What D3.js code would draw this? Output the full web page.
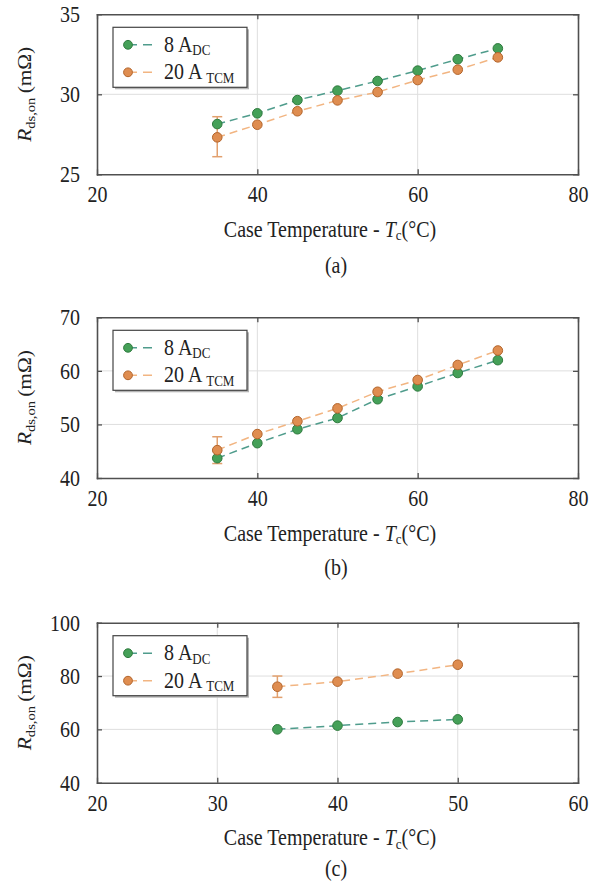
<!DOCTYPE html>
<html>
<head>
<meta charset="utf-8">
<script src="https://cdn.jsdelivr.net/npm/d3@7"></script>
<style>
  body { margin: 0; background: #fff; }
  text { font-family: "Liberation Serif", "Times New Roman", serif; fill: #222; }
</style>
</head>
<body>
<svg id="fig" width="614" height="885"></svg>
<script>
// Case temperatures (°C)
const tempsAB = [35, 40, 45, 50, 55, 60, 65, 70];
const tempsC = [35, 40, 45, 50];

// R_ds,on (mΩ), panel (a)
const dcA  = [28.14, 28.81, 29.64, 30.23, 30.83, 31.48, 32.19, 32.87];
const tcmA = [27.31, 28.10, 28.94, 29.62, 30.14, 30.89, 31.54, 32.31];
const tcmErrA = [[35, 26.1, 28.6]];

// R_ds,on (mΩ), panel (b)
const dcB  = [43.7, 46.5, 49.1, 51.2, 54.7, 57.1, 59.6, 62.0];
const tcmB = [45.2, 48.2, 50.6, 53.0, 56.1, 58.3, 61.1, 63.8];
const tcmErrB = [[35, 42.7, 47.7]];

// R_ds,on (mΩ), panel (c)
const dcC  = [60.0, 61.4, 62.75, 63.75];
const tcmC = [76.0, 77.9, 80.9, 84.25];
const tcmErrC = [[35, 72.0, 80.0]];

// Axis ticks
const xTicksAB = [20, 40, 60, 80];
const xTicksC = [20, 30, 40, 50, 60];
const yTicksA = [25, 30, 35];
const yTicksB = [40, 50, 60, 70];
const yTicksC = [40, 60, 80, 100];

const captions = ["(a)", "(b)", "(c)"];

const COLORS = {
  dcFill: "#45a058", dcStroke: "#2e7a3e", dcLine: "#4f9c8c",
  tcmFill: "#df8d50", tcmStroke: "#b3652c", tcmLine: "#f2b582", tcmErr: "#e2a06e"
};

// glyphs of this typeface are drawn slightly tall
const SY = 1.12;

const svg = d3.select("#fig");
const L = 97, R = 578;

const panels = [
  { top: 14.3, bottom: 174.3, caption: 273, temps: tempsAB, dc: dcA, tcm: tcmA, err: tcmErrA,
    xTicks: xTicksAB, yTicks: yTicksA, label: captions[0] },
  { top: 317.3, bottom: 478, caption: 575, temps: tempsAB, dc: dcB, tcm: tcmB, err: tcmErrB,
    xTicks: xTicksAB, yTicks: yTicksB, label: captions[1] },
  { top: 622.7, bottom: 782.7, caption: 876, temps: tempsC, dc: dcC, tcm: tcmC, err: tcmErrC,
    xTicks: xTicksC, yTicks: yTicksC, label: captions[2] }
];

// horizontal text anchored at (x, y) with a vertical stretch
function place(sel, x, y) {
  return sel.attr("x", 0).attr("y", 0).attr("transform", `translate(${x},${y}) scale(1,${SY})`);
}

function drawPanel(p) {
  const g = svg.append("g");
  const x = d3.scaleLinear().domain(d3.extent(p.xTicks)).range([L, R]);
  const y = d3.scaleLinear().domain(d3.extent(p.yTicks)).range([p.bottom, p.top]);

  // grid
  g.append("g").selectAll("line").data(p.xTicks.slice(1, -1)).join("line")
    .attr("x1", d => x(d)).attr("x2", d => x(d))
    .attr("y1", p.top).attr("y2", p.bottom)
    .attr("stroke", "#dedede").attr("stroke-width", 1);
  g.append("g").selectAll("line").data(p.yTicks.slice(1, -1)).join("line")
    .attr("y1", d => y(d)).attr("y2", d => y(d))
    .attr("x1", L).attr("x2", R)
    .attr("stroke", "#dedede").attr("stroke-width", 1);

  // frame axes with inward ticks
  const styleAxis = sel => {
    sel.select(".domain").attr("stroke", "#505050").attr("stroke-width", 1.6);
    sel.selectAll(".tick line").attr("stroke", "#505050").attr("stroke-width", 1.3);
  };
  const bottomAx = g.append("g").attr("transform", `translate(0,${p.bottom})`)
    .call(d3.axisBottom(x).tickValues(p.xTicks).tickSizeInner(-5).tickSizeOuter(0).tickFormat(d3.format("d")))
    .call(styleAxis);
  bottomAx.selectAll("text").attr("dy", null).attr("font-size", 20).attr("fill", "#222")
    .attr("font-family", '"Liberation Serif", "Times New Roman", serif')
    .each(function () { place(d3.select(this), 0, 28); });
  g.append("g").attr("transform", `translate(0,${p.top})`)
    .call(d3.axisTop(x).tickValues(p.xTicks).tickSizeInner(-5).tickSizeOuter(0).tickFormat(""))
    .call(styleAxis);
  const leftAx = g.append("g").attr("transform", `translate(${L},0)`)
    .call(d3.axisLeft(y).tickValues(p.yTicks).tickSizeInner(-5).tickSizeOuter(0).tickFormat(d3.format("d")))
    .call(styleAxis);
  leftAx.selectAll("text").attr("dy", null).attr("font-size", 20).attr("fill", "#222")
    .attr("font-family", '"Liberation Serif", "Times New Roman", serif')
    .each(function () { place(d3.select(this), -17, 7.5); });
  g.append("g").attr("transform", `translate(${R},0)`)
    .call(d3.axisRight(y).tickValues(p.yTicks).tickSizeInner(-5).tickSizeOuter(0).tickFormat(""))
    .call(styleAxis);
  g.selectAll(".domain").attr("stroke-linecap", "square");

  // series lines
  const line = d3.line().x(d => x(d[0])).y(d => y(d[1]));
  const dcPts = p.temps.map((t, i) => [t, p.dc[i]]);
  const tcmPts = p.temps.map((t, i) => [t, p.tcm[i]]);
  g.append("path").attr("d", line(dcPts)).attr("fill", "none")
    .attr("stroke", COLORS.dcLine).attr("stroke-width", 1.5).attr("stroke-dasharray", "8,5");
  g.append("path").attr("d", line(tcmPts)).attr("fill", "none")
    .attr("stroke", COLORS.tcmLine).attr("stroke-width", 1.5).attr("stroke-dasharray", "8,5");

  // error bars
  const eb = g.append("g").attr("stroke", COLORS.tcmErr).attr("stroke-width", 1.5);
  p.err.forEach(([t, lo, hi]) => {
    eb.append("line").attr("x1", x(t)).attr("x2", x(t)).attr("y1", y(lo)).attr("y2", y(hi));
    eb.append("line").attr("x1", x(t) - 5).attr("x2", x(t) + 5).attr("y1", y(lo)).attr("y2", y(lo));
    eb.append("line").attr("x1", x(t) - 5).attr("x2", x(t) + 5).attr("y1", y(hi)).attr("y2", y(hi));
  });

  // markers
  g.append("g").selectAll("circle").data(dcPts).join("circle")
    .attr("cx", d => x(d[0])).attr("cy", d => y(d[1])).attr("r", 4.8)
    .attr("fill", COLORS.dcFill).attr("stroke", COLORS.dcStroke).attr("stroke-width", 1);
  g.append("g").selectAll("circle").data(tcmPts).join("circle")
    .attr("cx", d => x(d[0])).attr("cy", d => y(d[1])).attr("r", 4.8)
    .attr("fill", COLORS.tcmFill).attr("stroke", COLORS.tcmStroke).attr("stroke-width", 1);

  // legend
  const lx = 113, ly = p.top + 13, lw = 134, lh = 60;
  const lg = g.append("g");
  lg.append("rect").attr("x", lx + 2).attr("y", ly + 2).attr("width", lw).attr("height", lh)
    .attr("fill", "#b5b5b5");
  lg.append("rect").attr("x", lx).attr("y", ly).attr("width", lw).attr("height", lh)
    .attr("fill", "#fff").attr("stroke", "#444").attr("stroke-width", 1.2);
  const rows = [
    { dy: 17.5, fill: COLORS.dcFill, stroke: COLORS.dcStroke, lc: COLORS.dcLine, main: "8 A", sub: "DC" },
    { dy: 45, fill: COLORS.tcmFill, stroke: COLORS.tcmStroke, lc: COLORS.tcmLine, main: "20 A ", sub: "TCM" }
  ];
  rows.forEach(r => {
    const cy = ly + r.dy;
    lg.append("line").attr("x1", 128).attr("x2", 154).attr("y1", cy).attr("y2", cy)
      .attr("stroke", r.lc).attr("stroke-width", 1.5).attr("stroke-dasharray", "9,6");
    lg.append("circle").attr("cx", 128).attr("cy", cy).attr("r", 4.4)
      .attr("fill", r.fill).attr("stroke", r.stroke).attr("stroke-width", 1);
    const t = place(lg.append("text"), 164, cy + 7).attr("font-size", 20);
    t.append("tspan").text(r.main);
    t.append("tspan").attr("font-size", 13).attr("dy", 3).text(r.sub);
  });

  // y-axis title
  const yt = g.append("text")
    .attr("transform", `translate(31,${(p.top + p.bottom) / 2}) rotate(-90) scale(${SY},1)`)
    .attr("text-anchor", "middle").attr("font-size", 19);
  yt.append("tspan").attr("font-style", "italic").text("R");
  yt.append("tspan").attr("font-size", 13).attr("dy", 4).text("ds,on");
  yt.append("tspan").attr("dy", -4).text("\u2009(mΩ)");

  // x-axis title
  const xt = place(g.append("text"), 330, p.bottom + 62.5)
    .attr("text-anchor", "middle").attr("font-size", 20);
  xt.append("tspan").text("Case Temperature - ");
  xt.append("tspan").attr("font-style", "italic").text("T");
  xt.append("tspan").attr("font-size", 13).attr("dy", 3).text("c");
  xt.append("tspan").attr("dy", -3).text("(°C)");

  // caption
  place(g.append("text"), 336, p.caption).attr("text-anchor", "middle")
    .attr("font-size", 20).text(p.label);
}

panels.forEach(drawPanel);
</script>
</body>
</html>
